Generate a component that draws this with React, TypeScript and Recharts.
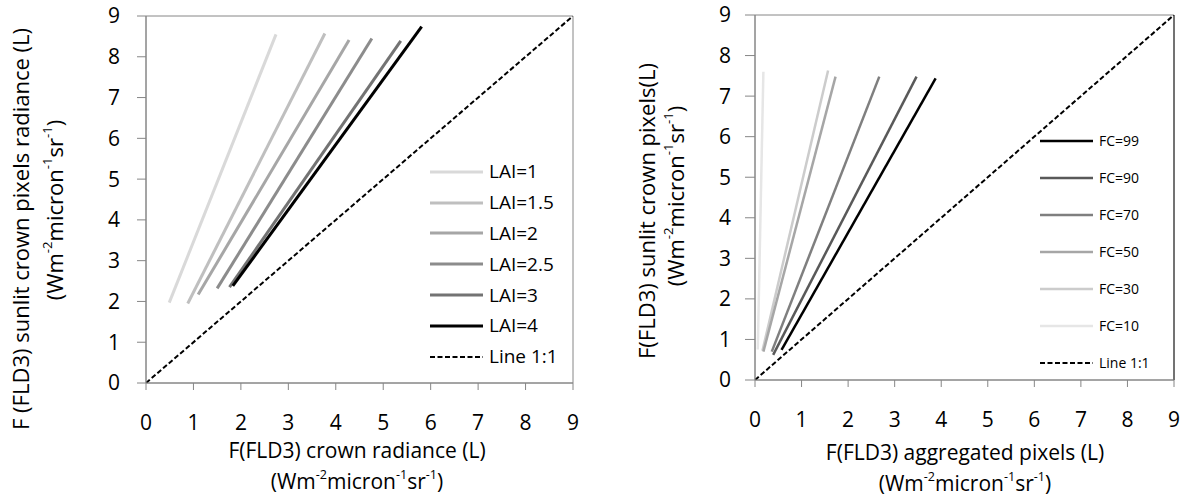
import React from 'react';
import { LineChart, Line, XAxis, YAxis, ReferenceArea, ReferenceLine, Legend, Label } from 'recharts';

const FONT = '"Open Sans", sans-serif';
const AXIS_GRAY = '#868686';

// shared axis ticks
const axisTicks = [0, 1, 2, 3, 4, 5, 6, 7, 8, 9];
const oneToOne = [0, 9];

// ---- left chart: LAI series (start / end points)
const laiNames = ['LAI=1', 'LAI=1.5', 'LAI=2', 'LAI=2.5', 'LAI=3', 'LAI=4'];
const laiColors = ['#d9d9d9', '#bfbfbf', '#a6a6a6', '#8c8c8c', '#737373', '#000000'];
const laiStartX = [0.49, 0.88, 1.1, 1.5, 1.76, 1.83];
const laiStartY = [1.97, 1.95, 2.17, 2.32, 2.35, 2.38];
const laiEndX = [2.74, 3.77, 4.28, 4.76, 5.37, 5.81];
const laiEndY = [8.55, 8.57, 8.41, 8.45, 8.39, 8.74];

// ---- right chart: FC series
const fcNames = ['FC=99', 'FC=90', 'FC=70', 'FC=50', 'FC=30', 'FC=10'];
const fcColors = ['#000000', '#595959', '#7f7f7f', '#a6a6a6', '#cccccc', '#e6e6e6'];
const fcStartX = [0.57, 0.39, 0.36, 0.18, 0.16, 0.06];
const fcStartY = [0.74, 0.62, 0.7, 0.7, 0.72, 0.75];
const fcEndX = [3.88, 3.47, 2.67, 1.73, 1.57, 0.18];
const fcEndY = [7.44, 7.48, 7.48, 7.48, 7.63, 7.6];

const lineName = 'Line 1:1';

const seg = (x0: number, y0: number, x1: number, y1: number) => [
  { x: x0, y: y0 },
  { x: x1, y: y1 },
];
const oneToOneData = seg(oneToOne[0], oneToOne[0], oneToOne[1], oneToOne[1]);

const X_TITLE_SIZE = 21;
const Y_TITLE_SIZE = 22;

const Unit = ({ x, y, size }: { x: number; y: number; size: number }) => {
  const s = size * 0.6;
  const d = size * 0.33;
  return (
    <text x={x} y={y} textAnchor="middle" dominantBaseline="central" fontFamily={FONT} fontSize={size} fill="#000">
      (Wm<tspan dy={-d} fontSize={s}>-2</tspan>
      <tspan dy={d}>micron</tspan>
      <tspan dy={-d} fontSize={s}>-1</tspan>
      <tspan dy={d}>sr</tspan>
      <tspan dy={-d} fontSize={s}>-1</tspan>
      <tspan dy={d}>)</tspan>
    </text>
  );
};

const XTitle = ({ cx, y1, y2, title }: { cx: number; y1: number; y2: number; title: string }) => (
  <g>
    <text x={cx} y={y1} textAnchor="middle" dominantBaseline="central" fontFamily={FONT} fontSize={X_TITLE_SIZE} fill="#000">
      {title}
    </text>
    <Unit x={cx} y={y2} size={X_TITLE_SIZE} />
  </g>
);

const YTitle = ({ x1, c1, x2, c2, title }: { x1: number; c1: number; x2: number; c2: number; title: string }) => (
  <g>
    <g transform={`rotate(-90, ${x1}, ${c1})`}>
      <text x={x1} y={c1} textAnchor="middle" dominantBaseline="central" fontFamily={FONT} fontSize={Y_TITLE_SIZE} fill="#000">
        {title}
      </text>
    </g>
    <g transform={`rotate(-90, ${x2}, ${c2})`}>
      <Unit x={x2} y={c2} size={Y_TITLE_SIZE} />
    </g>
  </g>
);

type LegendItem = { name: string; color: string; dashed?: boolean; width: number };

const makeLegend = (items: LegendItem[], itemH: number, fontSize: number, lineW: number) => () => (
  <div style={{ fontFamily: FONT, fontSize, color: '#000' }}>
    {items.map((it) => (
      <div key={it.name} style={{ height: itemH, display: 'flex', alignItems: 'center' }}>
        <svg width={lineW} height={8} style={{ display: 'block' }}>
          <line
            x1={0}
            y1={4}
            x2={lineW}
            y2={4}
            stroke={it.color}
            strokeWidth={it.width}
            strokeDasharray={it.dashed ? '5 2.5' : undefined}
          />
        </svg>
        <span style={{ marginLeft: 6, whiteSpace: 'nowrap', lineHeight: 1 }}>{it.name}</span>
      </div>
    ))}
  </div>
);

const laiLegendItems: LegendItem[] = [
  ...laiNames.map((n, i) => ({ name: n, color: laiColors[i], width: 3 })),
  { name: lineName, color: '#000', dashed: true, width: 2 },
];
const fcLegendItems: LegendItem[] = [
  ...fcNames.map((n, i) => ({ name: n, color: fcColors[i], width: 2.5 })),
  { name: lineName, color: '#000', dashed: true, width: 2 },
];

const tickStyle = { fontFamily: FONT, fontSize: 21, fill: '#000' };

function LeftChart() {
  return (
    <LineChart width={600} height={500} margin={{ top: 16, right: 27, bottom: 17, left: 46 }}>
      <XAxis
        type="number"
        dataKey="x"
        domain={[0, 9]}
        ticks={axisTicks}
        interval={0}
        tickSize={7}
        tickMargin={25}
        height={100}
        stroke={AXIS_GRAY}
        tick={tickStyle}
        allowDataOverflow
      >
        <Label content={() => <XTitle cx={357} y1={450} y2={481} title="F(FLD3) crown radiance (L)" />} />
      </XAxis>
      <YAxis
        type="number"
        dataKey="y"
        domain={[0, 9]}
        ticks={axisTicks}
        interval={0}
        tickSize={9}
        tickMargin={17}
        width={100}
        stroke={AXIS_GRAY}
        tick={tickStyle}
        allowDataOverflow
      >
        <Label
          content={() => (
            <YTitle x1={20} c1={229} x2={54} c2={210} title="F (FLD3) sunlit crown pixels radiance (L)" />
          )}
        />
      </YAxis>
      <ReferenceArea x1={0} x2={9} y1={0} y2={9} fill="none" stroke={AXIS_GRAY} strokeWidth={1} />
      <Line
        data={oneToOneData}
        dataKey="y"
        name={lineName}
        stroke="#000"
        strokeWidth={2}
        strokeDasharray="5 2.5"
        dot={false}
        isAnimationActive={false}
      />
      {laiNames.map((n, i) => (
        <Line
          key={n}
          data={seg(laiStartX[i], laiStartY[i], laiEndX[i], laiEndY[i])}
          dataKey="y"
          name={n}
          stroke={laiColors[i]}
          strokeWidth={3}
          dot={false}
          isAnimationActive={false}
        />
      ))}
      <Legend
        layout="vertical"
        align="center"
        verticalAlign="middle"
        wrapperStyle={{ left: 430, top: 156.5, width: 150, height: 216 }}
        content={makeLegend(laiLegendItems, 30.8, 19, 53)}
      />
    </LineChart>
  );
}

function RightChart() {
  return (
    <LineChart width={583} height={500} margin={{ top: 15, right: 9, bottom: 20, left: 55 }}>
      <XAxis
        type="number"
        dataKey="x"
        domain={[0, 9]}
        ticks={axisTicks}
        interval={0}
        tickSize={7}
        tickMargin={25}
        height={100}
        stroke={AXIS_GRAY}
        tick={tickStyle}
        allowDataOverflow
      >
        <Label content={() => <XTitle cx={365} y1={452} y2={483} title="F(FLD3) aggregated pixels (L)" />} />
      </XAxis>
      <YAxis
        type="number"
        dataKey="y"
        domain={[0, 9]}
        ticks={axisTicks}
        interval={0}
        tickSize={10}
        tickMargin={14}
        width={100}
        stroke={AXIS_GRAY}
        tick={tickStyle}
        allowDataOverflow
      >
        <Label
          content={() => (
            <YTitle x1={46} c1={211} x2={75} c2={196} title="F(FLD3) sunlit crown pixels(L)" />
          )}
        />
      </YAxis>
      <ReferenceArea x1={0} x2={9} y1={0} y2={9} fill="none" stroke={AXIS_GRAY} strokeWidth={1} />
      <ReferenceLine x={9} stroke="#222" strokeWidth={1} />
      <Line
        data={oneToOneData}
        dataKey="y"
        name={lineName}
        stroke="#000"
        strokeWidth={2}
        strokeDasharray="5 2.5"
        dot={false}
        isAnimationActive={false}
      />
      {fcNames
        .map((n, i) => ({ n, i }))
        .reverse()
        .map(({ n, i }) => (
          <Line
            key={n}
            data={seg(fcStartX[i], fcStartY[i], fcEndX[i], fcEndY[i])}
            dataKey="y"
            name={n}
            stroke={fcColors[i]}
            strokeWidth={2.5}
            dot={false}
            isAnimationActive={false}
          />
        ))}
      <Legend
        layout="vertical"
        align="center"
        verticalAlign="middle"
        wrapperStyle={{ left: 440, top: 122, width: 140, height: 260 }}
        content={makeLegend(fcLegendItems, 37.1, 14, 53)}
      />
    </LineChart>
  );
}

export default function App() {
  return (
    <div style={{ position: 'absolute', left: 0, top: 0, width: 1183, height: 500, background: '#fff' }}>
      <div style={{ position: 'absolute', left: 0, top: 0 }}>
        <LeftChart />
      </div>
      <div style={{ position: 'absolute', left: 600, top: 0 }}>
        <RightChart />
      </div>
    </div>
  );
}
